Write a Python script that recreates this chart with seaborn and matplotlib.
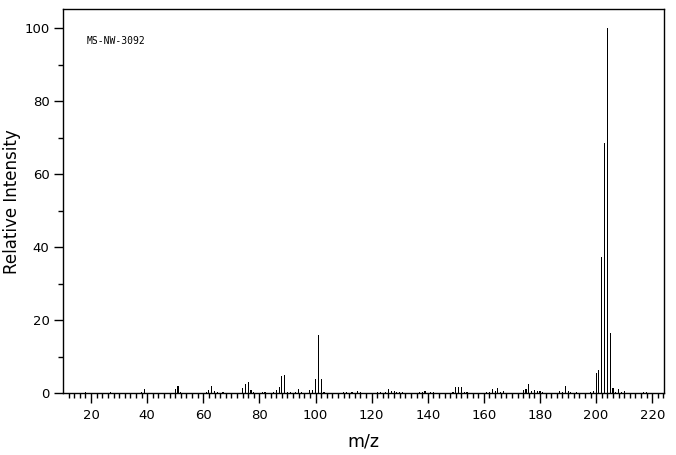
import matplotlib
matplotlib.use("Agg")
import matplotlib.pyplot as plt
import seaborn as sns
import pandas as pd
from matplotlib.ticker import MultipleLocator

mz = [18, 27, 38, 39, 50, 51, 52, 61, 62, 63, 64, 65, 67, 74, 75, 76, 77, 78,
      81, 82, 85, 86, 87, 88, 89, 90, 91, 93, 94, 95, 98, 99, 100, 101, 102, 103,
      110, 111, 113, 115, 116, 122, 123, 125, 126, 127, 128, 129, 130, 131,
      137, 138, 139, 141, 142, 149, 150, 151, 152, 153, 154, 161, 162, 163, 164,
      165, 166, 167, 174, 175, 176, 177, 178, 179, 180, 181, 187, 188, 189, 190,
      191, 193, 198, 199, 200, 201, 202, 203, 204, 205, 206, 207, 208, 209, 210,
      217, 218]
intensity = [0.35, 0.35, 0.35, 1.2, 1.1, 2.0, 0.35, 0.35, 0.9, 2.0, 0.5, 0.4, 0.4,
             1.5, 2.6, 3.1, 0.9, 0.4, 0.35, 0.35, 0.35, 0.9, 1.7, 4.7, 5.0, 0.35,
             0.35, 0.35, 1.2, 0.4, 0.9, 0.9, 3.9, 16.0, 3.9, 0.4, 0.35, 0.35, 0.35,
             0.6, 0.35, 0.35, 0.35, 0.35, 1.2, 0.6, 0.6, 0.35, 0.35, 0.35, 0.35,
             0.4, 0.6, 0.35, 0.35, 0.35, 1.7, 1.7, 1.7, 0.35, 0.35, 0.35, 0.4, 1.2,
             0.7, 1.5, 0.35, 0.6, 0.9, 1.2, 2.6, 0.5, 0.9, 0.5, 0.6, 0.35, 0.6,
             0.35, 2.0, 0.6, 0.35, 0.35, 0.35, 0.6, 5.6, 6.4, 37.3, 68.7, 100.0,
             16.6, 1.5, 0.35, 1.2, 0.35, 0.6, 0.35, 0.35]
label_text = "MS-NW-3092"
x_label = "m/z"
y_label = "Relative Intensity"

df = pd.DataFrame({"mz": mz, "intensity": intensity})

sns.set_style("ticks")
plt.rcParams["font.family"] = ["DejaVu Sans"]

fig = plt.figure(figsize=(6.76, 4.55), dpi=100)
ax = fig.add_axes([63.3 / 676, 1 - 393.3 / 455, 601 / 676, 384 / 455])

sns.histplot(data=df, x="mz", weights="intensity", discrete=True, shrink=0.4,
             color="black", alpha=1, linewidth=0, ax=ax)

ax.set_xlim(10.1, 224.3)
ax.set_ylim(0, 105.2)

ax.xaxis.set_major_locator(MultipleLocator(20))
ax.xaxis.set_minor_locator(MultipleLocator(2))
ax.yaxis.set_major_locator(MultipleLocator(20))
ax.yaxis.set_minor_locator(MultipleLocator(10))

for s in ax.spines.values():
    s.set_color("black")
    s.set_linewidth(1.0)
    s.set_visible(True)

ax.tick_params(axis="both", which="major", direction="out", color="black",
               width=1.0, labelsize=9.5, labelcolor="black")
ax.tick_params(axis="x", which="major", length=7.2, pad=4)
ax.tick_params(axis="x", which="minor", length=3.6, width=1.0, color="black")
ax.tick_params(axis="y", which="major", length=6.5, pad=3.5)
ax.tick_params(axis="y", which="minor", length=3.6, width=1.0, color="black")

ax.set_xlabel(x_label, fontsize=12.5, color="black", labelpad=8)
ax.set_ylabel(y_label, fontsize=12, color="black")
ax.yaxis.set_label_coords(-0.071, 0.5)
ax.grid(False)

ax.text(0.039, 0.917, label_text, transform=ax.transAxes, fontsize=7,
        family="DejaVu Sans Mono", va="center", ha="left", color="black")

fig.savefig("out.png", dpi=100, facecolor="white")
